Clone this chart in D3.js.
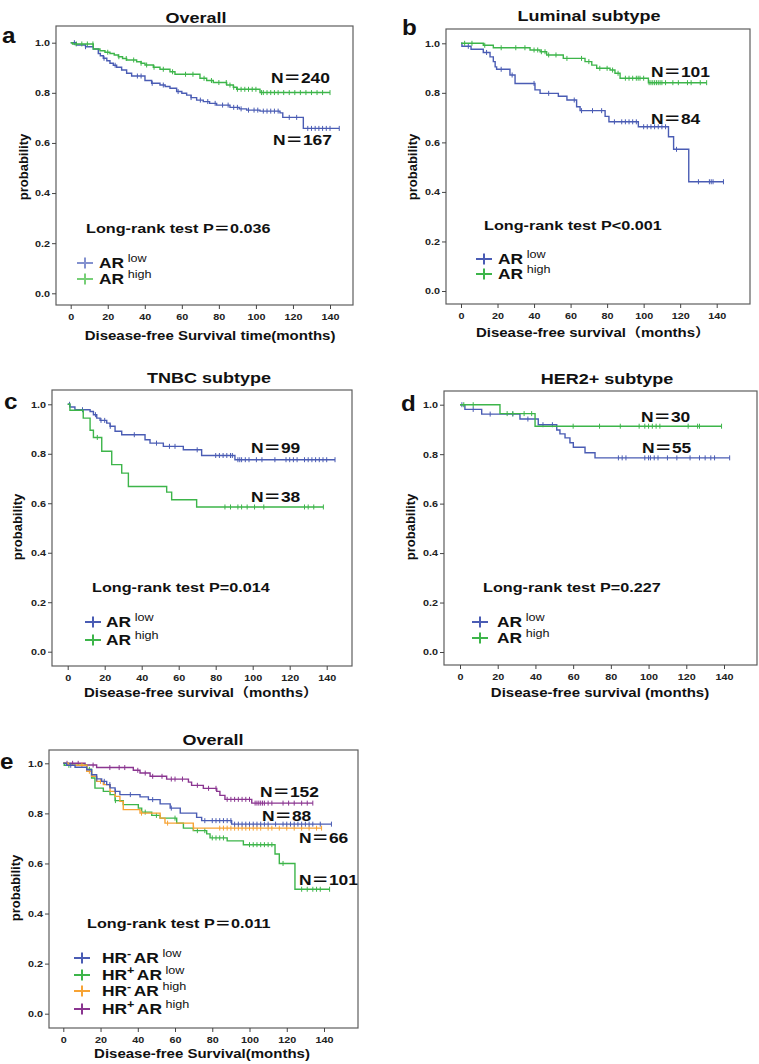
<!DOCTYPE html>
<html><head><meta charset="utf-8">
<script src="https://cdn.jsdelivr.net/npm/d3@7/dist/d3.min.js"></script>
<style>body{margin:0;background:#fff}svg{display:block}</style>
</head><body>
<svg id="chart" width="759" height="1064"></svg>
<script>
// ---------------- DATA ----------------
const xTicks = [0, 20, 40, 60, 80, 100, 120, 140];
const yTicks = [0, 0.2, 0.4, 0.6, 0.8, 1.0];
const yTickLabels = ["0.0", "0.2", "0.4", "0.6", "0.8", "1.0"];

// Panel a: Overall
const aLowSteps = [[3,0.991],[8,0.984],[12.2,0.975],[14.9,0.957],[16,0.948],[17.6,0.938],[19.5,0.928],[21.2,0.918],[23,0.91],[24.8,0.902],[27.5,0.891],[30.2,0.878],[32.9,0.867],[40.1,0.849],[43.7,0.838],[48.2,0.831],[51,0.825],[53.6,0.818],[57.2,0.805],[60,0.798],[62.6,0.791],[65,0.781],[68,0.771],[71.6,0.765],[75,0.758],[78.8,0.751],[86,0.742],[91,0.736],[95,0.731],[102.2,0.727],[113,0.72],[114.5,0.702],[125.6,0.658]];
const aLowEnd = 145;
const aLowCensor = [2,8,18,24,36,38,44,50,58,65,70,74,78,82,85,88,90,92,96,99,101,104,106,108,110,112,118,122,128,130,132,134,136,138,140,145];
const aHighSteps = [[1,0.995],[12.2,0.975],[15.8,0.968],[18.5,0.962],[21.2,0.957],[23.5,0.951],[25.7,0.944],[28,0.937],[30.2,0.931],[35.6,0.924],[38,0.918],[40.1,0.911],[44.6,0.902],[48.2,0.894],[53.6,0.884],[56.3,0.874],[69.8,0.858],[73.4,0.849],[77,0.841],[84.2,0.831],[87.8,0.822],[89.6,0.814],[102.2,0.801]];
const aHighEnd = 140;
const aHighCensor = [3,6,9,12,20,26,30,34,38,41,45,50,55,62,66,72,76,80,84,86,88,90,92,94,96,98,100,103,104,106,108,110,112,115,118,121,124,127,130,133,136,140];

// Panel b: Luminal subtype
const bLowSteps = [[0.5,0.988],[5.5,0.976],[12.2,0.963],[15.9,0.945],[17.7,0.926],[18.7,0.905],[19.5,0.895],[26.8,0.872],[29.6,0.838],[40.5,0.812],[43.3,0.798],[53.3,0.786],[58,0.771],[63.3,0.744],[65.2,0.728],[78.9,0.705],[81,0.683],[97.1,0.663],[113.6,0.623],[116.4,0.572],[124.7,0.441]];
const bLowEnd = 143.7;
const bLowCensor = [4,14,22,28,40,48,62,66,72,77,84,88,90,92,94,96,100,102,104,106,108,110,112,118,130,136,137,138,143.7];
const bHighSteps = [[12.2,0.992],[17.7,0.982],[37.8,0.973],[43.3,0.966],[46.9,0.953],[56,0.939],[67.9,0.926],[71.6,0.912],[74.3,0.899],[81.6,0.892],[84.3,0.879],[87.1,0.859],[102.6,0.841]];
const bHighEnd = 134.5;
const bHighCensor = [2,6,13,22,30,35,40,42,44,46,48,52,58,66,70,76,80,83,86,90,92,94,96,97,98,100,103,104,105,106,107,108,109,110,112,116,119,124,126,131,134.5];

// Panel c: TNBC subtype
const cLowSteps = [[1.2,0.989],[3.9,0.978],[12.1,0.971],[13.9,0.958],[15.7,0.944],[17.5,0.935],[21.1,0.924],[22.9,0.911],[25.6,0.891],[29.2,0.877],[41.8,0.857],[44.5,0.843],[51.7,0.83],[62.5,0.816],[72.4,0.793],[90.4,0.776]];
const cLowEnd = 144.5;
const cLowCensor = [1,8,15,18,20,23,36,48,55,58,70,80,82,84,86,88,89,92,93,94,96,98,102,105,112,118,120,122,124,128,130,132,134,136,138,140,144.5];
const cHighSteps = [[1.2,0.976],[8.4,0.944],[12.1,0.895],[13.9,0.866],[18.4,0.81],[23.8,0.756],[29.2,0.722],[32.8,0.668],[53.5,0.645],[56.2,0.614],[69.7,0.585]];
const cHighEnd = 138.2;
const cHighCensor = [16,85,88,92,94,97,101,106,128,130,133,138.2];

// Panel d: HER2+ subtype
const dLowSteps = [[2.6,0.981],[11.5,0.962],[31.8,0.942],[41.5,0.919],[51.3,0.898],[53,0.882],[55.7,0.866],[58.3,0.846],[60.1,0.828],[66.3,0.806],[71.6,0.785]];
const dLowEnd = 143;
const dLowCensor = [1,7,16,28,36,44,49,84,86,88,98,100,101,103,105,110,115,122,127,130,133,135,143];
const dHighSteps = [[21.2,0.964],[39.8,0.913]];
const dHighEnd = 138.7;
const dHighCensor = [2,7,25,28,34,38,60,74,85,95,98,100,102,104,106,121,126,127,138.7];

// Panel e: Overall by HR / AR
const eNegLowSteps = [[1.8,0.992],[6.3,0.984],[12.6,0.974],[15.2,0.954],[17.9,0.938],[20.6,0.928],[23.3,0.915],[25.1,0.902],[27.8,0.888],[30.4,0.875],[41.2,0.866],[45.7,0.855],[52,0.838],[57.4,0.821],[62.8,0.801],[71.6,0.784],[74.3,0.771],[90.4,0.757]];
const eNegLowEnd = 144;
const eNegLowCensor = [4,18,22,25,28,36,48,58,76,80,82,84,86,88,90,92,94,96,98,100,102,104,106,108,110,114,118,120,122,124,126,128,130,132,134,138,144];
const ePosLowSteps = [[0.5,0.992],[12.6,0.976],[15.2,0.941],[17,0.901],[21.5,0.888],[25.1,0.875],[27.8,0.851],[32.2,0.835],[40.3,0.821],[42.1,0.805],[47.5,0.792],[52,0.781],[60.9,0.761],[64.5,0.741],[69.8,0.731],[77,0.718],[78.8,0.702],[88,0.69],[96.7,0.675],[113.7,0.638],[116,0.6],[124.4,0.497]];
const ePosLowEnd = 143;
const ePosLowCensor = [3,14,28,44,50,60,72,76,80,82,84,86,100,102,104,106,108,110,112,118,128,131,134,136,138,143];
const eNegHighSteps = [[2.7,0.992],[12.6,0.968],[15.2,0.948],[17.9,0.928],[21.5,0.915],[25.1,0.888],[27.8,0.868],[30.4,0.848],[32.2,0.815],[41.2,0.801],[52,0.781],[54.6,0.761],[69.8,0.741]];
const eNegHighEnd = 138.7;
const eNegHighCensor = [10,14,20,42,56,70,84,86,88,90,92,94,96,98,100,102,104,106,110,112,116,120,124,128,132,136,138.7];
const ePosHighSteps = [[11.7,0.993],[17.9,0.983],[37.6,0.972],[41.2,0.961],[46.6,0.948],[55.5,0.937],[67.2,0.925],[68.9,0.912],[75.2,0.9],[82.4,0.888],[84.1,0.872],[86.8,0.856],[101.2,0.841]];
const ePosHighEnd = 134;
const ePosHighCensor = [2,5,8,16,25,30,33,40,44,48,53,58,60,64,72,78,82,88,90,92,94,96,98,100,103,104,105,106,107,108,110,112,118,121,124,128,131,134];

// ---------------- STYLE / LAYOUT ----------------
const BLUE = "#4a5cb4", GREEN = "#3db54a", ORANGE = "#f7a334", PURPLE = "#8a3590";
const FONT = "'Liberation Sans', Arial, 'Noto Sans CJK SC', sans-serif";
const SX = 1.2;

const panels = [
  { letter: "a", title: "Overall", xlabel: "Disease-free Survival time(months)",
    frame: [56, 26, 353, 305], xr: [70.7, 330], yr: [293.3, 42.7],
    titlePos: [196, 23], letterPos: [2, 43], xlabPos: [210, 340], ylabPos: [24, 167],
    curves: [
      { steps: aLowSteps, end: aLowEnd, censor: aLowCensor, color: BLUE },
      { steps: aHighSteps, end: aHighEnd, censor: aHighCensor, color: GREEN }],
    notes: [["N＝240", 271, 83], ["N＝167", 273, 145], ["Long-rank test P＝0.036", 86, 233]],
    legend: { x: 85, tx: 99, ys: [263, 279], colors: ["#8391cf", "#77cf77"],
      items: [["AR", "low"], ["AR", "high"]] } },
  { letter: "b", title: "Luminal subtype", xlabel: "Disease-free survival（months）",
    frame: [446, 29, 750, 304], xr: [461, 716.7], yr: [291, 43.3],
    titlePos: [589, 21], letterPos: [402, 35], xlabPos: [593, 337], ylabPos: [413, 167],
    curves: [
      { steps: bLowSteps, end: bLowEnd, censor: bLowCensor, color: BLUE },
      { steps: bHighSteps, end: bHighEnd, censor: bHighCensor, color: GREEN }],
    notes: [["N＝101", 651, 77], ["N＝84", 651, 124], ["Long-rank test P<0.001", 484, 230]],
    legend: { x: 484, tx: 498, ys: [259, 274], colors: [BLUE, GREEN],
      items: [["AR", "low"], ["AR", "high"]] } },
  { letter: "c", title: "TNBC subtype", xlabel: "Disease-free survival（months）",
    frame: [52, 390, 352, 666], xr: [67.7, 326.7], yr: [651.7, 404.3],
    titlePos: [209, 383], letterPos: [4, 409], xlabPos: [201, 697], ylabPos: [18, 527],
    curves: [
      { steps: cLowSteps, end: cLowEnd, censor: cLowCensor, color: BLUE },
      { steps: cHighSteps, end: cHighEnd, censor: cHighCensor, color: GREEN }],
    notes: [["N＝99", 251, 453], ["N＝38", 251, 502], ["Long-rank test P=0.014", 92, 592]],
    legend: { x: 93, tx: 106, ys: [622, 640], colors: [BLUE, GREEN],
      items: [["AR", "low"], ["AR", "high"]] } },
  { letter: "d", title: "HER2+ subtype", xlabel: "Disease-free survival (months)",
    frame: [444, 391, 757, 665], xr: [460, 724], yr: [652, 404.7],
    titlePos: [607, 384], letterPos: [401, 411], xlabPos: [600, 697], ylabPos: [411, 527],
    curves: [
      { steps: dLowSteps, end: dLowEnd, censor: dLowCensor, color: BLUE },
      { steps: dHighSteps, end: dHighEnd, censor: dHighCensor, color: GREEN }],
    notes: [["N＝30", 641, 422], ["N＝55", 642, 453], ["Long-rank test P=0.227", 483, 592]],
    legend: { x: 480, tx: 497, ys: [622, 638], colors: [BLUE, GREEN],
      items: [["AR", "low"], ["AR", "high"]] } },
  { letter: "e", title: "Overall", xlabel: "Disease-free Survival(months)",
    frame: [49, 750, 358, 1028], xr: [63.3, 324], yr: [1013.7, 763.3],
    titlePos: [213, 745], letterPos: [0, 769], xlabPos: [202, 1058], ylabPos: [16, 888],
    curves: [
      { steps: ePosHighSteps, end: ePosHighEnd, censor: ePosHighCensor, color: PURPLE },
      { steps: ePosLowSteps, end: ePosLowEnd, censor: ePosLowCensor, color: GREEN },
      { steps: eNegHighSteps, end: eNegHighEnd, censor: eNegHighCensor, color: ORANGE },
      { steps: eNegLowSteps, end: eNegLowEnd, censor: eNegLowCensor, color: BLUE }],
    notes: [["N＝152", 260, 797], ["N＝88", 262, 821], ["N＝66", 299, 843], ["N＝101", 299, 885], ["Long-rank test P＝0.011", 87, 928]],
    legend: { x: 82, tx: 102, ys: [958, 975, 991, 1009], colors: [BLUE, GREEN, ORANGE, PURPLE],
      items: [["HR", "AR", "low", "-"], ["HR", "AR", "low", "+"], ["HR", "AR", "high", "-"], ["HR", "AR", "high", "+"]] } }
];

// ---------------- DRAW ----------------
const svg = d3.select("#chart");
svg.append("rect").attr("width", 759).attr("height", 1064).attr("fill", "#fff");

function text(g, x, y, str, size, anchor, weight, sx) {
  return g.append("text")
    .attr("transform", `translate(${x},${y}) scale(${sx == null ? SX : sx},1)`)
    .attr("text-anchor", anchor || "start")
    .attr("font-family", FONT).attr("font-size", size)
    .attr("font-weight", weight || "bold").attr("fill", "#111")
    .text(str);
}

function survAt(steps, t) {
  let s = 1;
  for (const [ti, si] of steps) { if (ti <= t) s = si; else break; }
  return s;
}

panels.forEach(p => {
  const g = svg.append("g");
  const [fx0, fy0, fx1, fy1] = p.frame;
  const x = d3.scaleLinear().domain([0, 140]).range(p.xr);
  const y = d3.scaleLinear().domain([0, 1]).range(p.yr);

  // frame
  g.append("rect").attr("x", fx0).attr("y", fy0).attr("width", fx1 - fx0).attr("height", fy1 - fy0)
    .attr("fill", "none").attr("stroke", "#5e5e5e").attr("stroke-width", 1.2);

  // axes
  const yAxis = d3.axisLeft(y).tickValues(yTicks).tickSize(4).tickPadding(2)
    .tickFormat((d, i) => yTickLabels[i]);
  const ya = g.append("g").attr("transform", `translate(${fx0},0)`).call(yAxis);
  const xAxis = d3.axisBottom(x).tickValues(xTicks).tickSize(4).tickPadding(3).tickFormat(d3.format("d"));
  const xa = g.append("g").attr("transform", `translate(0,${fy1})`).call(xAxis);
  [ya, xa].forEach(a => {
    a.select(".domain").remove();
    a.selectAll(".tick line").attr("stroke", "#444").attr("stroke-width", 1);
    a.selectAll(".tick text").attr("font-family", FONT).attr("font-size", 9)
      .attr("font-weight", "bold").attr("fill", "#222");
  });
  ya.selectAll(".tick text").attr("transform", `translate(-6,0) scale(${SX},1) translate(6,0)`);
  xa.selectAll(".tick text").attr("transform", `scale(${SX},1)`).attr("dy", "0.9em");

  // curves
  const line = d3.line().x(d => x(d[0])).y(d => y(d[1])).curve(d3.curveStepAfter);
  p.curves.forEach(c => {
    const last = c.steps[c.steps.length - 1][1];
    const pts = [[0, 1], ...c.steps, [c.end, last]];
    g.append("path").attr("d", line(pts)).attr("fill", "none")
      .attr("stroke", c.color).attr("stroke-width", 1.4);
    g.selectAll(null).data(c.censor).enter().append("line")
      .attr("x1", d => x(d)).attr("x2", d => x(d))
      .attr("y1", d => y(survAt(c.steps, d)) - 2.5)
      .attr("y2", d => y(survAt(c.steps, d)) + 2.5)
      .attr("stroke", c.color).attr("stroke-width", 1);
  });

  // titles and labels
  text(g, p.titlePos[0], p.titlePos[1], p.title, 15, "middle");
  text(g, p.letterPos[0], p.letterPos[1], p.letter, 22, "start", "bold", 1.1);
  text(g, p.xlabPos[0], p.xlabPos[1], p.xlabel, 12.5, "middle");
  g.append("text").attr("transform", `translate(${p.ylabPos[0] + 4},${p.ylabPos[1]}) rotate(-90)`)
    .attr("text-anchor", "middle").attr("font-family", FONT).attr("font-size", 13)
    .attr("font-weight", "bold").attr("fill", "#111").text("probability");

  p.notes.forEach(n => text(g, n[1], n[2], n[0], n[0].startsWith("N") ? 14.5 : 13.5, "start"));

  // legend
  const L = p.legend;
  L.items.forEach((it, i) => {
    const cy = L.ys[i];
    g.append("line").attr("x1", L.x - 8).attr("x2", L.x + 8).attr("y1", cy).attr("y2", cy)
      .attr("stroke", L.colors[i]).attr("stroke-width", 2);
    g.append("line").attr("x1", L.x).attr("x2", L.x).attr("y1", cy - 5.5).attr("y2", cy + 5.5)
      .attr("stroke", L.colors[i]).attr("stroke-width", 2);
    const t = text(g, L.tx, cy + 5, "", 14.5, "start");
    if (it.length === 2) {
      t.append("tspan").text(it[0]);
      t.append("tspan").attr("dx", 3).attr("dy", -6).attr("font-size", 10.5)
        .attr("font-weight", "normal").text(it[1]);
    } else {
      t.append("tspan").text(it[0]);
      t.append("tspan").attr("dy", -6).attr("font-size", 10.5).text(it[3] === "-" ? "-" : "+");
      t.append("tspan").attr("dx", 2).attr("dy", 6).text(it[1]);
      t.append("tspan").attr("dx", 3).attr("dy", -6).attr("font-size", 10.5)
        .attr("font-weight", "normal").text(it[2]);
    }
  });
});
</script>
</body></html>
